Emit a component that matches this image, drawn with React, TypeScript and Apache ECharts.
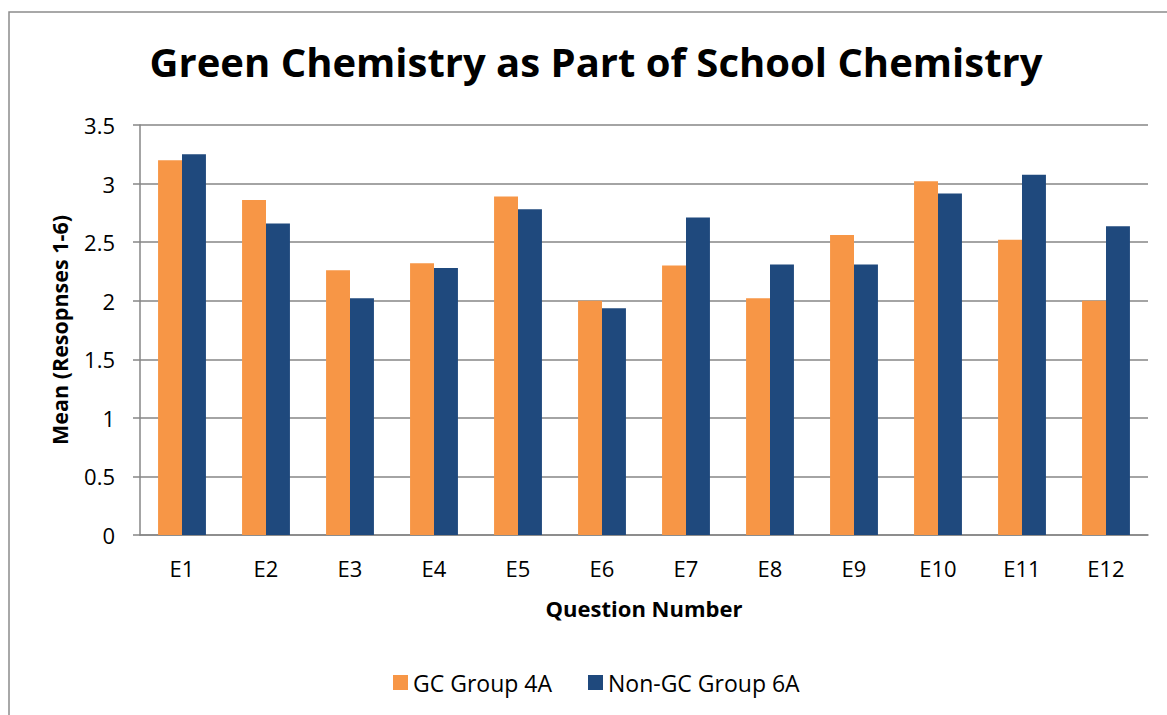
import React, { useEffect, useRef } from "react";
import * as echarts from "echarts";

const categories = ["E1", "E2", "E3", "E4", "E5", "E6", "E7", "E8", "E9", "E10", "E11", "E12"];
const gcGroup4A = [3.2, 2.86, 2.26, 2.32, 2.89, 2.0, 2.3, 2.02, 2.56, 3.02, 2.52, 2.0];
const nonGcGroup6A = [3.25, 2.66, 2.02, 2.28, 2.78, 1.935, 2.71, 2.31, 2.31, 2.915, 3.075, 2.635];
const yTicks = { min: 0, max: 3.5, interval: 0.5 };

const FONT = "'Open Sans', sans-serif";

export default function App() {
  const ref = useRef<HTMLDivElement>(null);
  useEffect(() => {
    if (!ref.current) return;
    const chart = echarts.init(ref.current, null, { renderer: "svg" });
    chart.setOption({
      animation: false,
      backgroundColor: "#ffffff",
      textStyle: { fontFamily: FONT },
      title: {
        text: "Green Chemistry as Part of School Chemistry",
        left: 591,
        top: 36,
        textAlign: "center",
        textStyle: { fontSize: 40, fontWeight: "bold", color: "#000", fontFamily: FONT },
      },
      graphic: [
        {
          type: "rect",
          shape: { x: 9, y: 12, width: 1250, height: 800 },
          style: { fill: "none", stroke: "#8c8c8c", lineWidth: 1.5 },
          silent: true,
        },
      ],
      legend: {
        bottom: 16,
        left: 388,
        itemWidth: 15,
        itemHeight: 15,
        itemGap: 36,
        icon: "rect",
        textStyle: { fontSize: 23, color: "#000", fontFamily: FONT },
        data: ["GC Group 4A", "Non-GC Group 6A"],
      },
      grid: { left: 140, right: 19, top: 125, bottom: 180 },
      xAxis: {
        type: "category",
        data: categories,
        name: "Question Number",
        nameLocation: "middle",
        nameGap: 62,
        nameTextStyle: { fontSize: 22, fontWeight: "bold", color: "#000", fontFamily: FONT },
        axisLine: { lineStyle: { color: "#868686", width: 1.5 } },
        axisTick: { show: false },
        axisLabel: { fontSize: 22, color: "#000", margin: 22, fontFamily: FONT },
      },
      yAxis: {
        type: "value",
        min: yTicks.min,
        max: yTicks.max,
        interval: yTicks.interval,
        name: "Mean (Resopnses 1-6)",
        nameLocation: "middle",
        nameGap: 70,
        nameRotate: 90,
        nameTextStyle: { fontSize: 21.5, fontWeight: "bold", color: "#000", fontFamily: FONT },
        axisLine: { show: true, lineStyle: { color: "#868686", width: 1.5 } },
        axisTick: { show: true, length: 7, lineStyle: { color: "#868686", width: 1.5 } },
        axisLabel: { fontSize: 22, color: "#000", margin: 25, fontFamily: FONT },
        splitLine: { lineStyle: { color: "#868686", width: 1.5 } },
      },
      series: [
        {
          name: "GC Group 4A",
          type: "bar",
          data: gcGroup4A,
          itemStyle: { color: "#F79646" },
          barGap: "0%",
          barCategoryGap: "43%",
        },
        {
          name: "Non-GC Group 6A",
          type: "bar",
          data: nonGcGroup6A,
          itemStyle: { color: "#1F497D" },
          barGap: "0%",
          barCategoryGap: "43%",
        },
      ],
    });
    return () => chart.dispose();
  }, []);
  return (
    <div
      ref={ref}
      style={{ position: "fixed", left: 0, top: 0, width: 1167, height: 715 }}
    />
  );
}
